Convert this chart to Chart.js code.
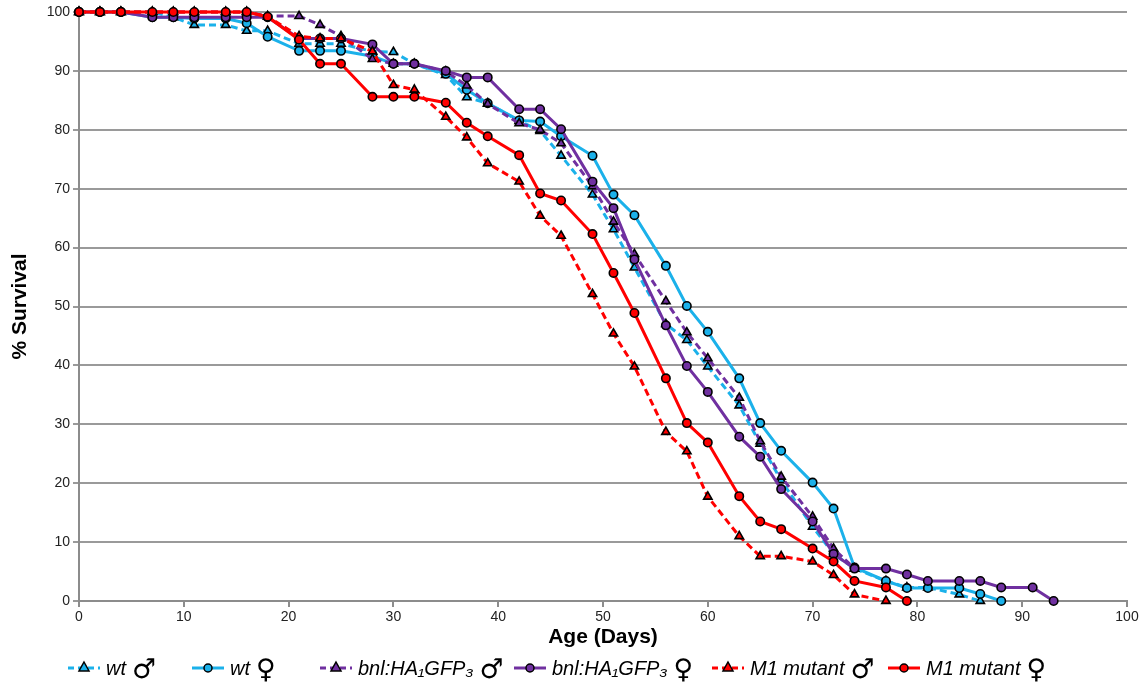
<!DOCTYPE html>
<html>
<head>
<meta charset="utf-8">
<script src="https://cdn.jsdelivr.net/npm/chart.js@4/dist/chart.umd.min.js"></script>
<style>
  body { margin: 0; background: #fff; font-family: "Liberation Sans", Arial, sans-serif; }
  #wrap { position: relative; width: 1145px; height: 696px; }
  #legend { position: absolute; left: 0; top: 650px; width: 1145px; height: 36px; }
  .item { position: absolute; top: 0; height: 36px; display: flex; align-items: center; white-space: nowrap; }
  .item svg { margin-right: 5px; }
  .lbl { font-style: italic; font-size: 20px; color: #000; }
  .sym { font-family: "DejaVu Sans", sans-serif; font-size: 27px; margin-left: 6px; color: #000; }
</style>
</head>
<body>
<div id="wrap">
  <canvas id="chart" width="1145" height="696"></canvas>
  <div id="legend"></div>
</div>
<script>
//------------------------------------DATA---------------------------------------------------

const days = [0,2,4,7,9,11,14,16,18,21,23,25,28,30,32,35,37,39,42,44,46,49,51,53,56,58,60,63,65,67,70,72,74,77,79,81,84,86,88,91,93]

const wtMale = [100,100,100,100,99.1,97.8,97.8,96.8,96.8,94.6,94.6,94.6,93.3,93.2,91.2,89.3,85.5,84.5,81.5,79.8,75.6,69.0,63.1,56.6,47.0,44.3,39.8,33.2,26.7,20.5,12.6,8.0,5.5,3.4,2.3,2.3,1.1,0,null,null,null]
const wtFemale = [100,100,100,99.1,99.1,98.9,98.9,98.1,95.8,93.4,93.4,93.4,92.5,91.2,91.2,89.5,86.8,84.5,81.6,81.4,78.9,75.6,69.0,65.5,56.9,50.1,45.7,37.8,30.2,25.5,20.1,15.7,5.7,3.4,2.2,2.2,2.2,1.2,0,null,null]
const bnlMale = [100,100,100,100,100,100,100,100,99.3,99.3,97.8,95.9,92.0,91.2,91.2,89.9,87.5,84.4,81.1,80.0,77.7,70.4,64.4,58.9,50.9,45.6,41.2,34.5,27.1,21.1,14.3,8.9,5.5,null,null,null,null,null,null,null,null]
const bnlFemale = [100,100,100,99.1,99.1,99.1,99.1,99.1,99.1,95.5,95.5,95.5,94.5,91.2,91.2,90.0,88.9,88.9,83.5,83.5,80.1,71.2,66.7,58.0,46.8,39.9,35.5,27.9,24.5,19.0,13.5,8.0,5.5,5.5,4.5,3.4,3.4,3.4,2.3,2.3,0]
const m1Male = [100,100,100,100,100,100,100,100,99.2,95.9,95.5,95.5,93.3,87.6,86.8,82.2,78.7,74.3,71.2,65.4,62.0,52.1,45.4,39.8,28.7,25.4,17.7,11.0,7.6,7.6,6.7,4.4,1.1,0,null,null,null,null,null,null,null]
const m1Female = [100,100,100,100,100,100,100,100,99.2,95.3,91.2,91.2,85.6,85.6,85.6,84.6,81.2,78.9,75.7,69.2,68.0,62.3,55.7,48.9,37.8,30.2,26.9,17.8,13.5,12.2,8.9,6.7,3.4,2.3,0,null,null,null,null,null,null]

const xTicks = [0,10,20,30,40,50,60,70,80,90,100]
const yTicks = [0,10,20,30,40,50,60,70,80,90,100]

const CYAN = '#1bb1ea'
const PURPLE = '#7030a0'
const RED = '#ff0000'

//------------------------------------BUILD--------------------------------------------------

function points(vals){
    let out = []
    for(let i=0;i<days.length;i++){
        if(vals[i] != null) out.push({x: days[i], y: vals[i]})
    }
    return out
}

function series(name, sym, vals, color, male, order){
    return {
        label: name,
        sym: sym,
        data: points(vals),
        borderColor: color,
        backgroundColor: color,
        borderWidth: 3,
        borderDash: male ? [7,4] : [],
        pointStyle: male ? 'triangle' : 'circle',
        pointRadius: male ? 4.8 : 4.2,
        pointBackgroundColor: color,
        pointBorderColor: '#000',
        pointBorderWidth: 1.6,
        tension: 0,
        clip: false,
        order: order,
    }
}

const datasets = [
    series('wt', '\u2642', wtMale, CYAN, true, 6),
    series('wt', '\u2640', wtFemale, CYAN, false, 5),
    series('bnl:HA\u2081GFP\u2083', '\u2642', bnlMale, PURPLE, true, 4),
    series('bnl:HA\u2081GFP\u2083', '\u2640', bnlFemale, PURPLE, false, 3),
    series('M1 mutant', '\u2642', m1Male, RED, true, 2),
    series('M1 mutant', '\u2640', m1Female, RED, false, 1),
]

const GRID = '#9a9a9a'
const AXIS = '#8c8c8c'
const tickFont = {family: '"Liberation Sans", Arial, sans-serif', size: 14}
const titleFont = {family: '"Liberation Sans", Arial, sans-serif', size: 21, weight: 'bold'}

new Chart(document.getElementById('chart'), {
    type: 'line',
    data: {datasets: datasets},
    options: {
        responsive: false,
        animation: false,
        layout: {padding: {left: 0, right: 18, top: 12, bottom: 42}},
        plugins: {legend: {display: false}, tooltip: {enabled: false}},
        scales: {
            x: {
                type: 'linear', min: 0, max: 100,
                afterBuildTicks: (s) => { s.ticks = xTicks.map(v => ({value: v})) },
                afterFit: (s) => { s.height = 53 },
                ticks: {font: tickFont, color: '#222', padding: 2, maxRotation: 0},
                grid: {drawOnChartArea: false, drawTicks: true, tickLength: 6, color: AXIS, lineWidth: 2},
                border: {display: true, color: AXIS, width: 2},
                title: {display: true, text: 'Age (Days)', font: titleFont, color: '#000', padding: {top: 2, bottom: 4}},
            },
            y: {
                min: 0, max: 100,
                afterBuildTicks: (s) => { s.ticks = yTicks.map(v => ({value: v})) },
                afterFit: (s) => { s.width = 79 },
                ticks: {font: tickFont, color: '#222', padding: 3},
                grid: {color: GRID, lineWidth: 2, drawTicks: true, tickLength: 6},
                border: {display: true, color: AXIS, width: 2},
                title: {display: true, text: '% Survival', font: titleFont, color: '#000', padding: {top: 8, bottom: 0}},
            }
        }
    }
})

//------------------------------------LEGEND-------------------------------------------------

const legendLeft = [67, 191, 319, 513, 711, 887]
const legend = document.getElementById('legend')
datasets.forEach((d, i) => {
    let dash = d.borderDash.length ? 'stroke-dasharray="6,4"' : ''
    let marker = d.pointStyle == 'triangle'
        ? `<polygon points="17,3 22,12 12,12" fill="${d.borderColor}" stroke="#000" stroke-width="1.5"/>`
        : `<circle cx="17" cy="9" r="4" fill="${d.borderColor}" stroke="#000" stroke-width="1.5"/>`
    let item = document.createElement('div')
    item.className = 'item'
    item.style.left = legendLeft[i] + 'px'
    item.innerHTML = `<svg width="34" height="18"><line x1="1" y1="9" x2="33" y2="9" stroke="${d.borderColor}" stroke-width="3" ${dash}/>${marker}</svg>`
        + `<span class="lbl">${d.label}</span><span class="sym">${d.sym}</span>`
    legend.appendChild(item)
})
</script>
</body>
</html>
